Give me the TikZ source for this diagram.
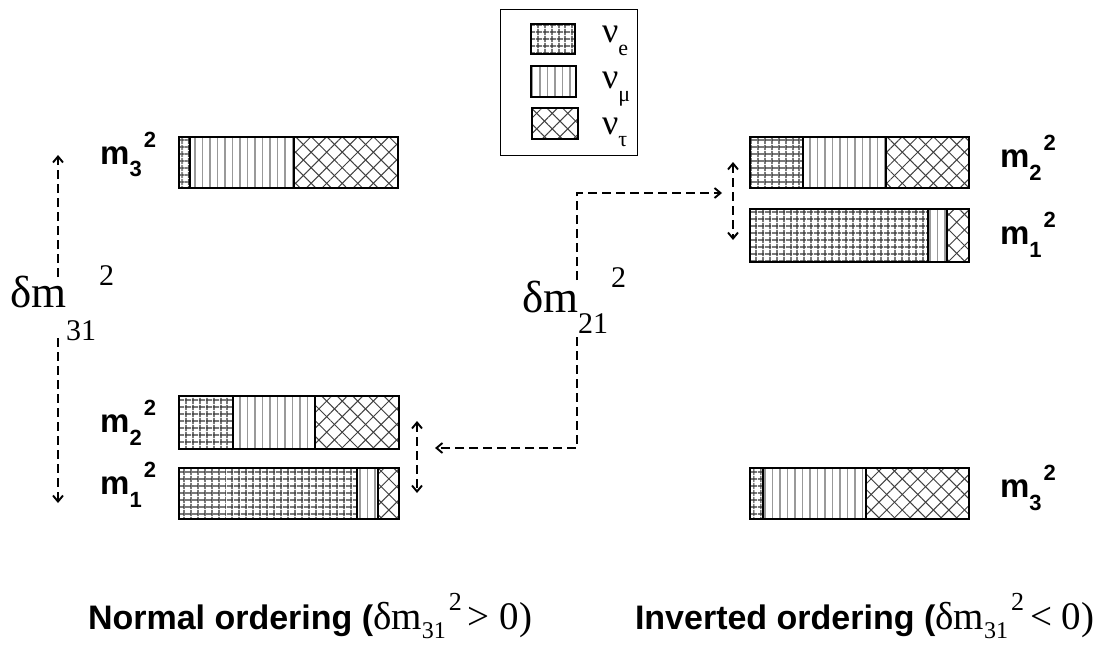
\documentclass[tikz,border=0pt]{standalone}
\usepackage{fontspec}
\setmainfont{Liberation Serif}
\setsansfont{Liberation Sans}
\usetikzlibrary{patterns.meta,arrows.meta}

\newcommand\barE[4]{%
  \path[pattern={Lines[angle=0,distance=6.5pt,line width=1.2pt]},pattern color=black!80] (#1,#2) rectangle (#3,#4);
  \path[pattern={Lines[angle=90,distance=6.5pt,line width=1.2pt]},pattern color=black!80] (#1,#2) rectangle (#3,#4);
  \draw[seg] (#1,#2) rectangle (#3,#4);}
\newcommand\barM[4]{%
  \path[pattern={Lines[angle=90,distance=7.5pt,line width=1.1pt]},pattern color=black!40] (#1,#2) rectangle (#3,#4);
  \draw[seg] (#1,#2) rectangle (#3,#4);}
\newcommand\barT[4]{%
  \path[pattern={Lines[angle=45,distance=11pt,line width=1pt]},pattern color=black!75] (#1,#2) rectangle (#3,#4);
  \path[pattern={Lines[angle=-45,distance=11pt,line width=1pt]},pattern color=black!75] (#1,#2) rectangle (#3,#4);
  \draw[seg] (#1,#2) rectangle (#3,#4);}
% y0 y1 x0 x1 x2 x3
\newcommand\nubar[6]{\barE{#3}{#1}{#4}{#2}\barM{#4}{#1}{#5}{#2}\barT{#5}{#1}{#6}{#2}}

\newcommand\mlab[1]{{\sffamily\bfseries\fontsize{33}{33}\selectfont m\raisebox{-13pt}{\fontsize{22}{22}\selectfont #1}\hspace{2pt}\raisebox{17pt}{\fontsize{22}{22}\selectfont 2}}}
\newcommand\dmlab[3]{{\fontsize{45}{45}\selectfont δm\raisebox{-#2}{\fontsize{30}{30}\selectfont #1}\hspace{3pt}\raisebox{#3}{\fontsize{30}{30}\selectfont 2}}}
\newcommand\nulab[1]{{\fontsize{36}{36}\selectfont ν\raisebox{-13pt}{\fontsize{22}{22}\selectfont #1}}}
\newcommand\ordlab[3]{{\sffamily\bfseries\fontsize{34}{34}\selectfont #1 ordering (}{\fontsize{39}{39}\selectfont δm\raisebox{-9pt}{\fontsize{24}{24}\selectfont 31}\hspace{3pt}\raisebox{19pt}{\fontsize{26}{26}\selectfont 2}\hspace{6pt}#2 #3)}}

\begin{document}
\begin{tikzpicture}[x=1pt,y=-1pt,
  seg/.style={draw=black,line width=1.4pt},
  lab/.style={inner sep=0pt,outer sep=0pt},
  dasharrow/.style={line width=1.9pt,dash pattern=on 9pt off 5pt,-{Straight Barb[length=6pt,width=10pt]}},
  dbl/.style={line width=1.9pt,dash pattern=on 9pt off 5pt,{Straight Barb[length=6pt,width=10pt]}-{Straight Barb[length=6pt,width=10pt]}}]
\useasboundingbox (0,0) rectangle (1099,650);

% legend
\draw[line width=1pt] (500,10) rectangle (637,155);
\barE{531}{24}{575}{54}
\barM{531}{66}{576}{97}
\barT{532}{108}{578}{139}
\node[lab,anchor=base west] (le) at (602,43) {\nulab{e}};
\node[lab,anchor=base west] (lm) at (602,89) {\nulab{μ}};
\node[lab,anchor=base west] (lt) at (602,134) {\nulab{τ}};

% normal ordering bars
\nubar{137}{188}{179}{190}{294}{398}
\nubar{396}{449}{179}{233}{315}{399}
\nubar{468}{519}{179}{357}{378}{399}
% inverted ordering bars
\nubar{137}{188}{750}{803}{886}{969}
\nubar{209}{262}{750}{928}{947}{969}
\nubar{468}{519}{750}{763}{866}{969}

% mass labels
\node[lab,anchor=base east] (nm3) at (156,164) {\mlab{3}};
\node[lab,anchor=base east] (nm2) at (156,432) {\mlab{2}};
\node[lab,anchor=base east] (nm1) at (156,494) {\mlab{1}};
\node[lab,anchor=base west] (im2) at (1000,167) {\mlab{2}};
\node[lab,anchor=base west] (im1) at (1000,244) {\mlab{1}};
\node[lab,anchor=base west] (im3) at (1000,497) {\mlab{3}};

% delta labels
\node[lab,anchor=base west] (d31) at (10,307) {\dmlab{31}{33pt}{22pt}};
\node[lab,anchor=base west] (d21) at (522,312) {\dmlab{21}{21pt}{25pt}};

% arrows
\coordinate (a31s) at (58,277);
\coordinate (a31t) at (58,155);
\coordinate (a31u) at (58,338);
\coordinate (a31b) at (58,503);
\draw[dasharrow] (a31s) -- (a31t);
\draw[dasharrow] (a31u) -- (a31b);

\coordinate (a21s) at (577,280);
\coordinate (a21t) at (722,193);
\coordinate (a21u) at (577,337);
\coordinate (a21b) at (435,448);
\draw[dasharrow] (a21s) |- (a21t);
\draw[dasharrow] (a21u) |- (a21b);

\coordinate (sl1) at (417,421);
\coordinate (sl2) at (417,493);
\draw[dbl] (sl1) -- (sl2);
\coordinate (sr1) at (733,162);
\coordinate (sr2) at (733,240);
\draw[dbl] (sr1) -- (sr2);

% captions
\node[lab,anchor=base west] (cn) at (88,629) {\ordlab{Normal}{>}{0}};
\node[lab,anchor=base west] (ci) at (635,629) {\ordlab{Inverted}{<}{0}};
\end{tikzpicture}
\end{document}
